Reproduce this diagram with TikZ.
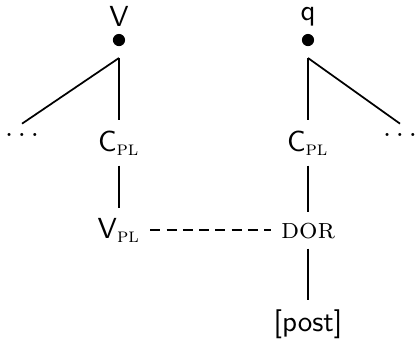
\documentclass[tikz,border=0pt]{standalone}
\usepackage{amsmath}
\usepackage{tikz}
\usetikzlibrary{positioning}

\begin{document}
\begin{tikzpicture}[
    dot/.style={circle, fill, inner sep=0pt, minimum size=4.2pt},
    lab/.style={font=\sffamily},
    branch/.style={semithick},
    assoc/.style={semithick, dash pattern=on 3.4pt off 2.2pt}
  ]
  \useasboundingbox (0,0) rectangle (5.03,-4.097);
  % roots
  \node[dot] (vdot) at (1.442,-0.485) {};
  \node[dot] (qdot) at (3.733,-0.485) {};
  \node[lab, above=-1pt of vdot] (vlab) {V};
  \node[lab, above=-1pt of qdot] (qlab) {q};
  \coordinate (vtop) at (1.442,-0.703);
  \coordinate (qtop) at (3.733,-0.703);
  % daughters
  \node[anchor=base] (ldots) at (0.267,-1.66) {$\ldots$};
  \node[anchor=base] (rdots) at (4.848,-1.66) {$\ldots$};
  \node[anchor=base] (lc) at (1.442,-1.83) {$\textsf{C}_{\textsc{pl}}$};
  \node[anchor=base] (rc) at (3.733,-1.83) {$\textsf{C}_{\textsc{pl}}$};
  \node[anchor=base] (vpl) at (1.442,-2.885) {$\textsf{V}_{\textsc{pl}}$};
  \node[anchor=base] (dor) at (3.733,-2.885) {\textsc{dor}};
  \node[lab, anchor=base] (post) at (3.733,-4.02) {[post]};
  % branches
  \draw[branch] (vtop) -- (ldots.north);
  \draw[branch] (vtop) -- (lc);
  \draw[branch] (lc) -- (vpl);
  \draw[branch] (qtop) -- (rc);
  \draw[branch] (qtop) -- (rdots.north);
  \draw[branch] (rc) -- (dor);
  \draw[branch] (dor) -- (post);
  \draw[assoc] (vpl.east) -- (vpl.east -| dor.west);
\end{tikzpicture}
\end{document}
